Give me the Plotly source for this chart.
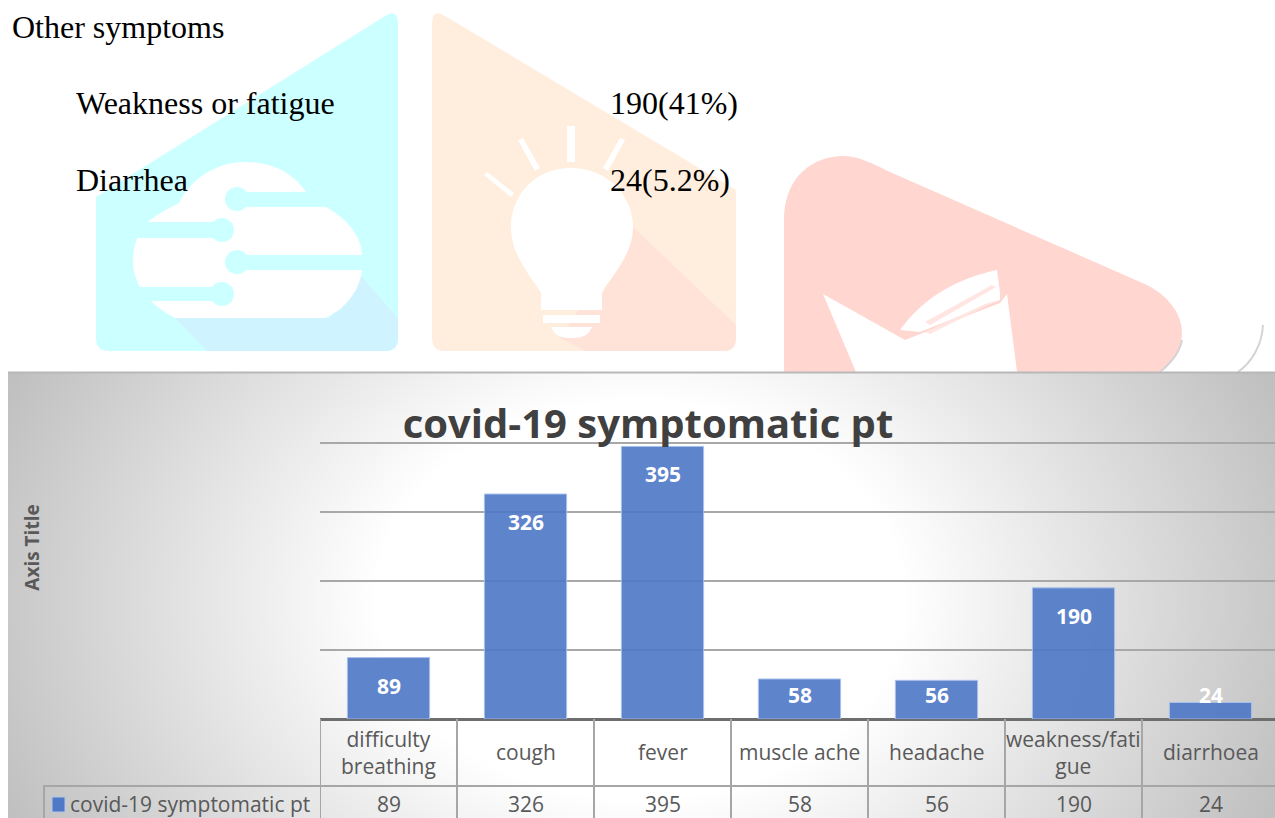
import urllib.parse
import plotly.graph_objects as go

# ---------- data ----------
categories = ["difficulty breathing", "cough", "fever", "muscle ache", "headache", "weakness/fatigue", "diarrhoea"]
category_labels = ["difficulty<br>breathing", "cough", "fever", "muscle ache", "headache", "weakness/fati<br>gue", "diarrhoea"]
series_name = "covid-19 symptomatic pt"
values = [89, 326, 395, 58, 56, 190, 24]
grid_values = [0, 100, 200, 300, 400]
chart_title = "covid-19 symptomatic pt"
axis_title = "Axis Title"
heading = "Other symptoms"
symptom_names = ["Weakness or fatigue", "Diarrhea"]
symptom_counts = ["190(41%)", "24(5.2%)"]

# ---------- page geometry ----------
W, H = 1275, 818
L, T, B = 320, 376, 99
PLOT_W, PLOT_H = W - L, H - T - B
FONT = "Open Sans"
GREY = "#595959"
LINE = "#a6a6a6"


def px(x):
    return (x - L) / PLOT_W


def py(y):
    return (H - B - y) / PLOT_H


def P(d):
    """Turn a pixel-coordinate path (tokens) into a paper-coordinate path."""
    out, is_x = [], True
    for tok in d.split():
        if tok.isalpha():
            out.append(tok)
            is_x = True
        else:
            v = float(tok)
            out.append(f"{px(v):.5f}" if is_x else f"{py(v):.5f}")
            is_x = not is_x
    return " ".join(out)


def deco(d, fill, line=None, width=0):
    return dict(type="path", path=P(d), xref="paper", yref="paper", layer="below",
                fillcolor=fill, line=dict(color=line or fill, width=width))


def dot(cx, cy, r, fill):
    return dict(type="circle", xref="paper", yref="paper", layer="below", fillcolor=fill,
                line=dict(width=0), x0=px(cx - r), x1=px(cx + r), y0=py(cy + r), y1=py(cy - r))


CY, CY2, OR, OR2, RD = "#ccffff", "#cff3ff", "#ffeedd", "#ffe3d8", "#ffd7d0"
WHITE = "#ffffff"

shapes = [
    # cyan panel
    deco("M 96 197 L 385 16 Q 398 8 398 24 L 398 338 Q 398 351 385 351 L 109 351 Q 96 351 96 338 Z", CY),
    deco("M 175 318 L 330 318 L 360 275 L 398 318 L 398 338 Q 398 351 385 351 L 207 351 Z", CY2),
    deco("M 148 222 C 160 212 170 208 179 203 C 190 180 215 162 245 162 C 275 162 295 175 306 192 "
         "L 326 207 C 350 220 362 240 362 255 L 362 270 C 360 290 345 310 325 318 L 175 318 "
         "C 150 305 133 285 133 262 C 133 245 138 232 148 222 Z", WHITE),
    deco("M 237 192 L 335 192 L 335 207 L 237 207 Z", CY),
    deco("M 130 222 L 222 222 L 222 238 L 130 238 Z", CY),
    deco("M 237 255 L 366 255 L 366 270 L 237 270 Z", CY),
    deco("M 130 287 L 222 287 L 222 301 L 130 301 Z", CY),
    dot(237, 199, 12, CY), dot(222, 230, 12, CY), dot(237, 262, 12, CY), dot(222, 294, 12, CY),
    # orange panel
    deco("M 432 24 Q 432 8 445 16 L 736 190 L 736 338 Q 736 351 723 351 L 445 351 Q 432 351 432 338 Z", OR),
    deco("M 633 227 L 736 325 L 736 338 Q 736 351 723 351 L 585 351 L 560 338 Z", OR2),
    deco("M 571 168 C 535 168 511 195 511 227 C 511 255 530 275 541 293 L 541 310 L 602 310 L 602 293 "
         "C 612 275 633 255 633 227 C 633 195 607 168 571 168 Z", WHITE),
    deco("M 543 315 L 600 315 L 600 323 L 543 323 Z", WHITE),
    deco("M 551 327 L 592 327 Q 588 338 575 338 L 568 338 Q 555 338 551 327 Z", WHITE),
    deco("M 567 126 L 575 126 L 575 162 L 567 162 Z", WHITE),
    deco("M 518 140 L 523 138 L 540 168 L 535 171 Z", WHITE),
    deco("M 620 138 L 625 140 L 608 171 L 603 168 Z", WHITE),
    deco("M 484 175 L 487 172 L 514 193 L 511 197 Z", WHITE),
    # red panel
    deco("M 784 372 L 784 220 C 784 175 815 156 843 156 C 860 156 875 165 890 172 L 1147 285 "
         "C 1170 297 1182 315 1182 333 C 1182 350 1172 362 1160 372 Z", RD),
    deco("M 823 294 L 905 340 L 1000 303 L 1007 294 L 1017 372 L 856 372 Z", WHITE),
    deco("M 900 330 C 925 295 960 278 997 270 L 1000 293 L 1000 300 L 920 332 Z", WHITE),
    deco("M 925 322 L 992 285 L 996 287 L 930 325 Z", "#ffe6e2"),
    deco("M 925 332 L 985 304 L 998 300 L 930 334 Z", "#ffe6e2"),
    # faint grey arcs
    deco("M 1182 340 C 1180 352 1172 362 1160 372", "rgba(0,0,0,0)", "#d4d4d4", 2),
    deco("M 1263 325 C 1262 345 1252 362 1238 372", "rgba(0,0,0,0)", "#d4d4d4", 2),
]

# chart frame top border
shapes.append(dict(type="line", xref="paper", yref="paper", layer="below",
                   x0=px(8), x1=px(W), y0=py(372.5), y1=py(372.5),
                   line=dict(color="#b8b8b8", width=2)))

# data-table grid
row_split = py(786)
for i in range(len(categories) + 1):
    shapes.append(dict(type="line", xref="x", yref="paper", x0=i - 0.5, x1=i - 0.5,
                       y0=py(H), y1=0, line=dict(color=LINE, width=2)))
shapes.append(dict(type="line", xref="paper", yref="paper", x0=px(43), x1=1,
                   y0=row_split, y1=row_split, line=dict(color=LINE, width=2)))
shapes.append(dict(type="line", xref="paper", yref="paper", x0=px(44), x1=px(44),
                   y0=py(H), y1=row_split, line=dict(color=LINE, width=2)))
shapes.append(dict(type="rect", xref="paper", yref="paper", x0=px(52), x1=px(65),
                   y0=py(812), y1=py(797), fillcolor="#4f78c6", line=dict(color="#b4c7e7", width=1)))

# ---------- annotations ----------
annotations = []


def note(text, x, y, **kw):
    annotations.append(dict(text=text, x=px(x - 2), y=py(y), xref="paper", yref="paper",
                            showarrow=False, xanchor=kw.pop("xanchor", "left"),
                            yanchor="middle", **kw))


serif = dict(family="Liberation Serif", size=32, color="#000000")
note(heading, 12, 27, font=serif)
for name, count, yy in zip(symptom_names, symptom_counts, [103, 180]):
    note(name, 76, yy, font=serif)
    note(count, 610, yy, font=serif)
note(series_name, 70, 804, font=dict(family=FONT, size=21, color=GREY))

PX_PER_UNIT = PLOT_H / 497
for c, lab, v in zip(categories, category_labels, values):
    annotations.append(dict(text=lab, x=c, y=py(752), xref="x", yref="paper", showarrow=False,
                            yanchor="middle", font=dict(family=FONT, size=21, color=GREY)))
    annotations.append(dict(text=str(v), x=c, y=py(804), xref="x", yref="paper", showarrow=False,
                            yanchor="middle", font=dict(family=FONT, size=21, color=GREY)))
    shift = -28 if v * PX_PER_UNIT > 50 else 24 - v * PX_PER_UNIT
    annotations.append(dict(text=f"<b>{v}</b>", x=c, y=v, xref="x", yref="y", yshift=shift,
                            showarrow=False, yanchor="middle",
                            font=dict(family=FONT, size=21, color="#ffffff")))

# ---------- background gradient ----------
svg = f"""<svg xmlns='http://www.w3.org/2000/svg' width='{W}' height='{H}' viewBox='0 0 {W} {H}'>
<defs><radialGradient id='g' gradientUnits='userSpaceOnUse' cx='0' cy='0' r='1'
 gradientTransform='translate(640 600) scale(690 520)'>
<stop offset='0' stop-color='#ffffff'/><stop offset='0.38' stop-color='#ffffff'/>
<stop offset='1' stop-color='#c0c0c0'/></radialGradient></defs>
<rect x='8' y='372' width='{W - 8}' height='{H - 372}' fill='url(#g)'/></svg>"""
bg_uri = "data:image/svg+xml;charset=utf-8," + urllib.parse.quote(svg)

# ---------- figure ----------
fig = go.Figure(go.Bar(
    x=categories, y=values, name=series_name, width=0.6,
    marker=dict(color="rgba(77,119,199,0.9)", line=dict(color="#a9c1ea", width=1)),
    showlegend=False, hoverinfo="x+y",
))
fig.update_layout(
    width=W, height=H, autosize=False,
    margin=dict(l=L, r=0, t=T, b=B, pad=0),
    paper_bgcolor="#ffffff", plot_bgcolor="rgba(0,0,0,0)",
    font=dict(family=FONT, color=GREY),
    title=dict(text=f"<b>{chart_title}</b>", xref="container", yref="container",
               x=648 / W, y=1 - 424 / H, xanchor="center", yanchor="middle",
               font=dict(family=FONT, size=40, color="#404040")),
    xaxis=dict(type="category", categoryorder="array", categoryarray=categories,
               range=[-0.5, -0.5 + PLOT_W / 137], showticklabels=False, ticks="", showgrid=False,
               zeroline=False, showline=False),
    yaxis=dict(range=[0, 497], tickvals=grid_values, showticklabels=False, ticks="",
               showgrid=True, gridcolor="#a8a8a8", gridwidth=1.5, zeroline=True,
               zerolinecolor="#6e6e6e", zerolinewidth=3, showline=False,
               title=dict(text=f"<b>{axis_title}</b>", standoff=274,
                          font=dict(family=FONT, size=19, color=GREY))),
    images=[dict(source=bg_uri, xref="paper", yref="paper", x=px(0), y=py(0),
                 sizex=W / PLOT_W, sizey=H / PLOT_H, sizing="stretch",
                 xanchor="left", yanchor="top", layer="below")],
    shapes=shapes, annotations=annotations,
)
fig.write_html("out.html", config=dict(displayModeBar=False),
               post_script="document.body.style.margin='0';document.documentElement.style.overflow='hidden';")
